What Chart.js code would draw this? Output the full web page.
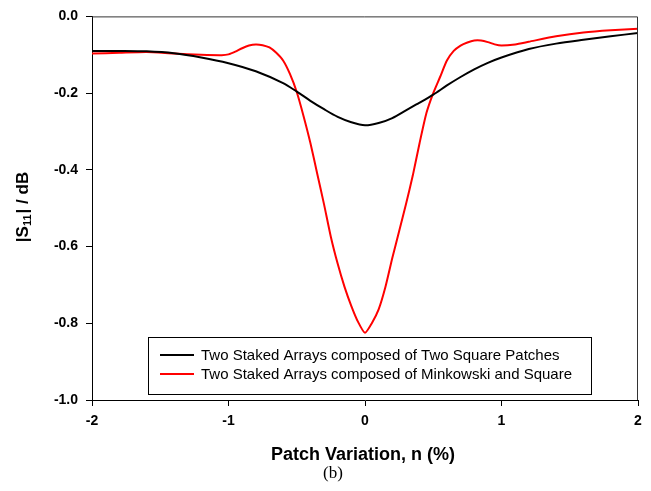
<!DOCTYPE html>
<html>
<head>
<meta charset="utf-8">
<script src="https://cdn.jsdelivr.net/npm/chart.js@4.4.0/dist/chart.umd.min.js"></script>
<style>
  html, body { margin: 0; padding: 0; background: #fff; }
  #holder { width: 651px; height: 491px; }
</style>
</head>
<body>
<div id="holder"><canvas id="chart-area"></canvas></div>
<script>
// series
var squareX = [-2.0, -1.8, -1.6, -1.4, -1.2, -1.0, -0.8, -0.6, -0.5, -0.4, -0.3, -0.2, -0.1, 0.0,
    0.1, 0.2, 0.3, 0.4, 0.5, 0.6, 0.7, 0.8, 0.9, 1.0, 1.2, 1.4, 1.6, 1.8, 2.0];
var squareY = [-0.090, -0.090, -0.091, -0.096, -0.107, -0.122, -0.143, -0.174, -0.196, -0.220, -0.242, -0.262, -0.276, -0.284,
    -0.278, -0.265, -0.245, -0.225, -0.204, -0.180, -0.158, -0.138, -0.121, -0.107, -0.085, -0.071, -0.061, -0.052, -0.043];

var minkX = [-2.0, -1.8, -1.6, -1.4, -1.2, -1.05, -1.0, -0.95, -0.9, -0.85, -0.8, -0.75, -0.7, -0.65, -0.6, -0.55,
    -0.5, -0.45, -0.4, -0.35, -0.3, -0.25, -0.2, -0.15, -0.1, -0.05, 0.0, 0.05, 0.1, 0.15, 0.2, 0.25, 0.3,
    0.35, 0.4, 0.45, 0.5, 0.55, 0.6, 0.65, 0.7, 0.75, 0.8, 0.85, 0.9, 0.95, 1.0, 1.1, 1.2, 1.4, 1.6, 1.8, 2.0];
var minkY = [-0.097, -0.095, -0.093, -0.097, -0.100, -0.101, -0.099, -0.092, -0.083, -0.076, -0.073, -0.075, -0.081, -0.095, -0.115, -0.150,
    -0.197, -0.260, -0.330, -0.410, -0.490, -0.575, -0.645, -0.705, -0.755, -0.797, -0.825, -0.800, -0.764, -0.705, -0.630, -0.560, -0.490,
    -0.415, -0.330, -0.252, -0.200, -0.158, -0.115, -0.090, -0.076, -0.068, -0.063, -0.063, -0.067, -0.073, -0.076, -0.073, -0.066, -0.052, -0.042, -0.036, -0.032];

var seriesNames = ["Two Staked Arrays composed of Two Square Patches",
    "Two Staked Arrays composed of Minkowski and Square"];
var seriesColors = ["#000000", "#ff0000"];

var xTicks = [-2, -1, 0, 1, 2];
var yTicks = [-1.0, -0.8, -0.6, -0.4, -0.2, 0.0];

function toPoints(xs, ys) {
    var pts = [];
    for (var i = 0; i < xs.length; i++) {
        pts.push({x: xs[i], y: ys[i]});
    }
    return pts;
}

// frame, titles, caption and inner legend
var decorations = {
    id: 'decorations',
    afterDraw: function(chart) {
        var ctx = chart.ctx;
        var a = chart.chartArea;
        ctx.save();
        ctx.strokeStyle = '#333';
        ctx.lineWidth = 1;
        ctx.beginPath();
        ctx.moveTo(a.left, a.top + 0.5);
        ctx.lineTo(a.right - 0.5, a.top + 0.5);
        ctx.lineTo(a.right - 0.5, a.bottom);
        ctx.stroke();

        // legend box
        var bx = 148.5, by = 337.5, bw = 443, bh = 57;
        ctx.strokeStyle = '#000';
        ctx.fillStyle = '#fff';
        ctx.fillRect(bx, by, bw, bh);
        ctx.strokeRect(bx, by, bw, bh);
        ctx.font = '15px "Liberation Sans", Arial, sans-serif';
        ctx.textBaseline = 'middle';
        ctx.textAlign = 'left';
        var rows = [355, 374];
        chart.data.datasets.forEach(function(ds, i) {
            ctx.strokeStyle = ds.borderColor;
            ctx.lineWidth = 2;
            ctx.beginPath();
            ctx.moveTo(160, rows[i]);
            ctx.lineTo(194, rows[i]);
            ctx.stroke();
            ctx.fillStyle = '#000';
            ctx.fillText(ds.label, 201, rows[i] + 1);
        });

        // x title
        ctx.fillStyle = '#000';
        ctx.font = 'bold 18px "Liberation Sans", Arial, sans-serif';
        ctx.textAlign = 'center';
        ctx.fillText('Patch Variation, n (%)', 363, 455);

        // caption
        ctx.font = '17px "Liberation Serif", "Times New Roman", serif';
        ctx.fillText('(b)', 333, 474);

        // y title with subscript
        ctx.translate(23, 207);
        ctx.rotate(-Math.PI / 2);
        ctx.textAlign = 'left';
        var big = 'bold 17px "Liberation Sans", Arial, sans-serif';
        var small = 'bold 11px "Liberation Sans", Arial, sans-serif';
        ctx.font = big;
        var w1 = ctx.measureText('|S').width;
        var w3 = ctx.measureText('| / dB').width;
        ctx.font = small;
        var w2 = ctx.measureText('11').width + 1;
        var x0 = -(w1 + w2 + w3) / 2;
        ctx.font = big;
        ctx.fillText('|S', x0, 0);
        ctx.font = small;
        ctx.fillText('11', x0 + w1, 5);
        ctx.font = big;
        ctx.fillText('| / dB', x0 + w1 + w2, 0);
        ctx.restore();
    }
};

var tickFont = {family: '"Liberation Sans", Arial, sans-serif', size: 14, weight: 'bold'};

var config = {
    type: 'scatter',
    data: {
        datasets: [{
            label: seriesNames[0],
            data: toPoints(squareX, squareY),
            borderColor: seriesColors[0],
            backgroundColor: seriesColors[0],
            borderWidth: 2,
            showLine: true,
            pointRadius: 0,
            tension: 0.3
        }, {
            label: seriesNames[1],
            data: toPoints(minkX, minkY),
            borderColor: seriesColors[1],
            backgroundColor: seriesColors[1],
            borderWidth: 2,
            showLine: true,
            pointRadius: 0,
            tension: 0.2
        }]
    },
    options: {
        responsive: true,
        maintainAspectRatio: false,
        animation: false,
        layout: {padding: {left: 0, top: 16, right: 13, bottom: 0}},
        plugins: {
            legend: {display: false},
            tooltip: {enabled: false}
        },
        scales: {
            x: {
                type: 'linear',
                min: -2,
                max: 2,
                afterFit: function(scale) { scale.height = 91; },
                afterBuildTicks: function(scale) {
                    scale.ticks = xTicks.map(function(v) { return {value: v}; });
                },
                grid: {drawOnChartArea: false, drawTicks: true, tickLength: 6, color: '#000'},
                border: {color: '#000', width: 1},
                ticks: {
                    color: '#000',
                    font: tickFont,
                    padding: 7,
                    maxRotation: 0,
                    callback: function(v) { return String(v); }
                }
            },
            y: {
                type: 'linear',
                min: -1,
                max: 0,
                afterFit: function(scale) { scale.width = 92; },
                afterBuildTicks: function(scale) {
                    scale.ticks = yTicks.map(function(v) { return {value: v}; });
                },
                grid: {drawOnChartArea: false, drawTicks: true, tickLength: 6, color: '#000'},
                border: {color: '#000', width: 1},
                ticks: {
                    color: '#000',
                    font: tickFont,
                    padding: 8,
                    callback: function(v) { return (Math.abs(v) < 1e-9 ? 0 : v).toFixed(1); }
                }
            }
        }
    },
    plugins: [decorations]
};

var ctx = document.getElementById('chart-area').getContext('2d');
var myChart = new Chart(ctx, config);
</script>
</body>
</html>
